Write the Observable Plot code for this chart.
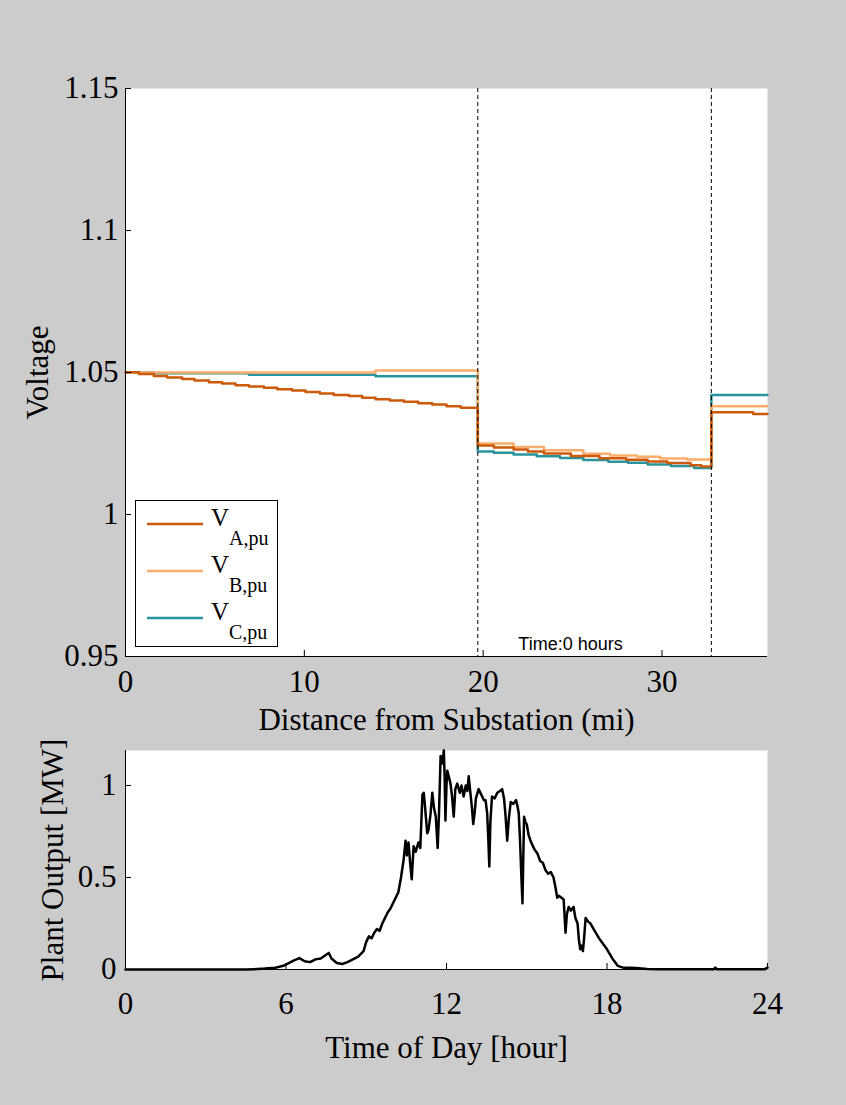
<!DOCTYPE html>
<html><head><meta charset="utf-8">
<script src="https://cdn.jsdelivr.net/npm/d3@7"></script>
<script src="https://cdn.jsdelivr.net/npm/@observablehq/plot@0.6"></script>
<style>
html,body{margin:0;padding:0;background:#cccccc;}
#wrap{position:relative;width:846px;height:1105px;overflow:hidden;background:#cccccc;}
#top,#bottom{position:absolute;left:0;}
#top{top:0;} #bottom{top:700px;}
#legend{position:absolute;left:135px;top:500px;width:141px;height:145px;background:#fff;border:1px solid #000;}
</style></head><body>
<div id="wrap"><div id="top"></div><div id="bottom"></div><div id="legend"></div></div>
<script>
// ---------- Top chart data: voltage profile along feeder ----------
const distA = [0, 0.75, 1.58, 2.33, 3.17, 3.86, 4.66, 5.41, 6.15, 6.9, 7.74, 8.48, 9.32, 10.07, 10.87, 11.65, 12.49, 13.24, 13.98, 14.78, 15.57, 16.37, 17.15, 17.95, 18.74,
  19.7, 20.6, 21.7, 22.5, 23.4, 24.9, 26.5, 28.0, 29.2, 30.3, 31.6, 32.2, 32.76, 35.1, 35.9];
const voltA = [1.0501, 1.0495, 1.0488, 1.0482, 1.0477, 1.0472, 1.0466, 1.0461, 1.0455, 1.0451, 1.0446, 1.0441, 1.0437, 1.0431, 1.0426, 1.0421, 1.0417, 1.0411, 1.0406, 1.0401, 1.0397, 1.0392, 1.0387, 1.0381, 1.0376,
  1.0243, 1.0236, 1.0229, 1.0222, 1.0215, 1.0206, 1.0198, 1.0193, 1.0187, 1.0181, 1.0173, 1.0169, 1.0360, 1.0354, 1.0354];
const distB = [0, 13.98, 19.7, 21.7, 23.4, 25.6, 27.1, 28.6, 29.9, 31.4, 32.76, 35.9];
const voltB = [1.0500, 1.0507, 1.0250, 1.0238, 1.0226, 1.0214, 1.0208, 1.0203, 1.0197, 1.0194, 1.0381, 1.0381];
const distC = [0, 1.58, 6.9, 13.98, 19.7, 20.6, 21.7, 23.0, 24.3, 25.6, 27.0, 28.1, 29.2, 30.5, 31.8, 32.76, 35.9];
const voltC = [1.0500, 1.0497, 1.0492, 1.0487, 1.0222, 1.0217, 1.0211, 1.0205, 1.0199, 1.0192, 1.0186, 1.0182, 1.0176, 1.0171, 1.0164, 1.0421, 1.0421];
const regulatorDist = [19.7, 32.76];
const phaseNames = ["A,pu", "B,pu", "C,pu"];
const phaseColors = ["#cc5a0a", "#fbad6b", "#2a939b"];
const distTicks = [0, 10, 20, 30];
const distTickLabels = ["0", "10", "20", "30"];
const voltTicks = [0.95, 1, 1.05, 1.1, 1.15];
const voltTickLabels = ["0.95", "1", "1.05", "1.1", "1.15"];
const timeNote = "Time:0 hours";

// ---------- Bottom chart data: PV plant output ----------
const hours = [0, 4.5, 4.8, 5.2, 5.6, 5.9, 6.1, 6.3, 6.5, 6.7, 6.9, 7.1, 7.3, 7.5, 7.6, 7.7, 7.9, 8.1, 8.3, 8.5, 8.7, 8.9, 9.0, 9.1, 9.2, 9.3, 9.4, 9.5, 9.6, 9.7, 9.8, 9.9,
  10.0, 10.1, 10.2, 10.3, 10.35, 10.4, 10.47, 10.52, 10.58, 10.64, 10.7, 10.77, 10.85, 10.95, 11.02, 11.1, 11.15, 11.2, 11.28, 11.33, 11.4, 11.47, 11.53, 11.6, 11.67, 11.72, 11.78, 11.85, 11.9, 11.93, 11.96,
  12.0, 12.03, 12.1, 12.15, 12.2, 12.27, 12.33, 12.4, 12.5, 12.56, 12.64, 12.72, 12.78, 12.83, 12.9, 12.95, 13.0, 13.05, 13.1, 13.2, 13.3, 13.4, 13.46, 13.52, 13.56, 13.6, 13.64, 13.7, 13.8, 13.9,
  14.0, 14.08, 14.15, 14.2, 14.27, 14.33, 14.4, 14.5, 14.6, 14.65, 14.7, 14.75, 14.8, 14.84, 14.87, 14.9, 14.95, 15.0, 15.07, 15.14, 15.2, 15.3, 15.4, 15.5, 15.6, 15.7, 15.8, 15.9,
  16.0, 16.07, 16.14, 16.2, 16.3, 16.38, 16.45, 16.5, 16.57, 16.65, 16.75, 16.82, 16.9, 16.95, 17.0, 17.05, 17.1, 17.15, 17.2, 17.3, 17.38, 17.5, 17.7, 17.85,
  18.0, 18.2, 18.4, 18.6, 18.8, 19.1, 19.5, 20, 22, 22.05, 22.1, 23.9, 24];
const plantMW = [0, 0, 0.002, 0.005, 0.01, 0.02, 0.035, 0.05, 0.062, 0.045, 0.04, 0.055, 0.06, 0.08, 0.09, 0.06, 0.035, 0.03, 0.04, 0.055, 0.07, 0.1, 0.15, 0.18, 0.17, 0.2, 0.22, 0.21, 0.25, 0.28, 0.31, 0.33,
  0.36, 0.39, 0.42, 0.5, 0.55, 0.6, 0.70, 0.62, 0.69, 0.58, 0.49, 0.67, 0.64, 0.69, 0.66, 0.95, 0.96, 0.88, 0.74, 0.76, 0.84, 0.96, 0.88, 0.83, 0.66, 0.85, 1.16, 1.12, 1.19, 1.05, 0.81,
  1.0, 1.08, 1.04, 1.01, 0.95, 0.83, 0.98, 1.01, 0.96, 1.0, 0.94, 1.0, 0.97, 1.05, 0.95, 0.88, 0.79, 0.85, 0.93, 0.98, 0.95, 0.92, 0.92, 0.85, 0.72, 0.56, 0.8, 0.94, 0.93, 0.96,
  0.97, 0.98, 0.93, 0.85, 0.70, 0.82, 0.91, 0.90, 0.92, 0.89, 0.85, 0.70, 0.5, 0.36, 0.6, 0.83, 0.80, 0.79, 0.73, 0.70, 0.68, 0.65, 0.63, 0.59, 0.58, 0.54, 0.52, 0.53,
  0.50, 0.45, 0.39, 0.40, 0.39, 0.38, 0.20, 0.30, 0.34, 0.32, 0.34, 0.28, 0.25, 0.16, 0.11, 0.13, 0.10, 0.18, 0.28, 0.26, 0.25, 0.22, 0.17, 0.14,
  0.11, 0.06, 0.02, 0.01, 0.01, 0.008, 0.003, 0.002, 0.002, 0.01, 0.002, 0.002, 0.01];
const hourTicks = [0, 6, 12, 18, 24];
const mwTicks = [0, 0.5, 1];
const mwTickLabels = ["0", "0.5", "1"];

const serif = "'Liberation Serif', 'Times New Roman', serif";
const sans = "'Liberation Sans', Arial, sans-serif";

const toRows = (xs, ys) => xs.map((x, i) => ({x, y: ys[i]}));
const rowsA = toRows(distA, voltA);
const rowsB = toRows(distB, voltB);
const rowsC = toRows(distC, voltC);
const pvRows = toRows(hours, plantMW);

// MATLAB-style inward ticks: tick-only axis shifted into the frame, labels separately
const inwardTicksY = (ticks) => Plot.axisY(ticks, {tickSize: 6, dx: 6, tickFormat: () => "", label: null});
const inwardTicksX = (ticks) => Plot.axisX(ticks, {tickSize: 6, dy: -6, tickFormat: () => "", label: null});

const topChart = Plot.plot({
  width: 846, height: 746,
  marginLeft: 125, marginRight: 79, marginTop: 88, marginBottom: 90,
  style: {background: "transparent", fontFamily: serif, fontSize: "31px", color: "black", overflow: "visible"},
  x: {domain: [0, 35.9], label: null},
  y: {domain: [0.95, 1.15], label: null},
  marks: [
    Plot.frame({fill: "white", stroke: null}),
    Plot.line(rowsC, {x: "x", y: "y", stroke: phaseColors[2], strokeWidth: 2.5, curve: "step-after"}),
    Plot.line(rowsB, {x: "x", y: "y", stroke: phaseColors[1], strokeWidth: 2.5, curve: "step-after"}),
    Plot.line(rowsA, {x: "x", y: "y", stroke: phaseColors[0], strokeWidth: 2.5, curve: "step-after"}),
    Plot.ruleX(regulatorDist, {stroke: "black", strokeWidth: 1, strokeDasharray: "4,3"}),
    inwardTicksY(voltTicks),
    inwardTicksX(distTicks),
    Plot.axisY(voltTicks, {tickSize: 0, tickPadding: 7, label: null, tickFormat: d => voltTickLabels[voltTicks.indexOf(d)]}),
    Plot.axisX(distTicks, {tickSize: 0, tickPadding: 13, label: null, tickFormat: d => distTickLabels[distTicks.indexOf(d)]}),
    Plot.ruleX([0], {stroke: "black"}),
    Plot.ruleY([0.95], {stroke: "black"}),
    Plot.text([timeNote], {text: d => d, frameAnchor: "bottom", lineAnchor: "bottom", dx: 124, dy: -7, fontFamily: sans, fontSize: 18}),
    Plot.text(["Distance from Substation (mi)"], {text: d => d, frameAnchor: "bottom", textAnchor: "middle", lineAnchor: "bottom", dy: 73}),
    Plot.text(["Voltage"], {text: d => d, frameAnchor: "left", textAnchor: "middle", rotate: -90, lineAnchor: "bottom", dx: -78})
  ]
});
document.getElementById("top").appendChild(topChart);

const bottomChart = Plot.plot({
  width: 846, height: 405,
  marginLeft: 125, marginRight: 79, marginTop: 50, marginBottom: 136,
  style: {background: "transparent", fontFamily: serif, fontSize: "31px", color: "black", overflow: "visible"},
  x: {domain: [0, 24], label: null},
  y: {domain: [0, 1.19], label: null},
  marks: [
    Plot.frame({fill: "white", stroke: null}),
    Plot.line(pvRows, {x: "x", y: "y", stroke: "black", strokeWidth: 2.5}),
    inwardTicksY(mwTicks),
    inwardTicksX(hourTicks),
    Plot.axisY(mwTicks, {tickSize: 0, tickPadding: 9, label: null, tickFormat: d => mwTickLabels[mwTicks.indexOf(d)]}),
    Plot.axisX(hourTicks, {tickSize: 0, tickPadding: 22, label: null, tickFormat: d => String(d)}),
    Plot.ruleX([0], {stroke: "black"}),
    Plot.ruleY([0], {stroke: "black"}),
    Plot.text(["Time of Day [hour]"], {text: d => d, frameAnchor: "bottom", textAnchor: "middle", lineAnchor: "bottom", dy: 88}),
    Plot.text(["Plant Output [MW]"], {text: d => d, frameAnchor: "left", textAnchor: "middle", rotate: -90, lineAnchor: "bottom", dx: -63})
  ]
});
document.getElementById("bottom").appendChild(bottomChart);

// ---------- Legend (inside the top axes) ----------
const leg = d3.select("#legend").append("svg").attr("width", 141).attr("height", 145);
phaseNames.forEach((name, i) => {
  const y = 23 + i * 47;
  leg.append("line").attr("x1", 11).attr("x2", 67).attr("y1", y).attr("y2", y)
    .attr("stroke", phaseColors[i]).attr("stroke-width", 2.5);
  leg.append("text").attr("x", 75).attr("y", y + 2).attr("font-family", serif).attr("font-size", 25).text("V");
  leg.append("text").attr("x", 93).attr("y", y + 21).attr("font-family", serif).attr("font-size", 20).text(name);
});
</script></body></html>
